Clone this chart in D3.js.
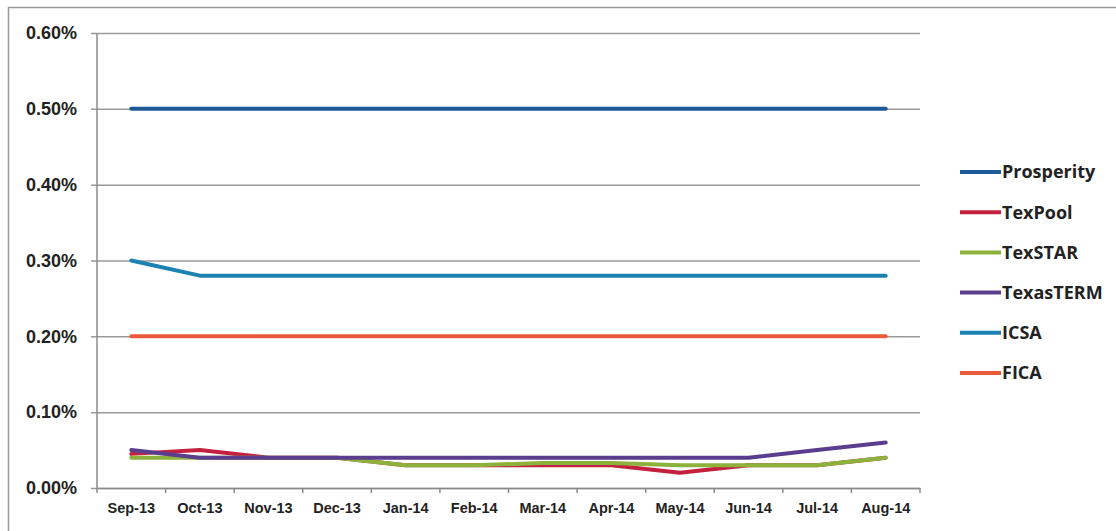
<!DOCTYPE html>
<html>
<head>
<script src="https://d3js.org/d3.v7.min.js"></script>
  <meta charset="utf-8">
  <title>Rates chart</title>
  <style>
    body { margin: 0; background: #fff; }
    svg { display: block; font-family: "Open Sans", "DejaVu Sans", sans-serif; }
  </style>
</head>
<body>
  <div id="chartArea"></div>
  <script>
  var months = ['Sep-13', 'Oct-13', 'Nov-13', 'Dec-13', 'Jan-14', 'Feb-14',
    'Mar-14', 'Apr-14', 'May-14', 'Jun-14', 'Jul-14', 'Aug-14'];

  var seriesNames = ['Prosperity', 'TexPool', 'TexSTAR', 'TexasTERM', 'ICSA', 'FICA'];
  var seriesColors = ['#1d5a98', '#c4213f', '#8cb23c', '#5a3d8c', '#1c82b2', '#ea5a3a'];

  var prosperity = [0.50, 0.50, 0.50, 0.50, 0.50, 0.50, 0.50, 0.50, 0.50, 0.50, 0.50, 0.50];
  var texPool    = [0.045, 0.05, 0.04, 0.04, 0.03, 0.03, 0.03, 0.03, 0.02, 0.03, 0.03, 0.04];
  var texStar    = [0.04, 0.04, 0.04, 0.04, 0.03, 0.03, 0.033, 0.033, 0.03, 0.03, 0.03, 0.04];
  var texasTerm  = [0.05, 0.04, 0.04, 0.04, 0.04, 0.04, 0.04, 0.04, 0.04, 0.04, 0.05, 0.06];
  var icsa       = [0.30, 0.28, 0.28, 0.28, 0.28, 0.28, 0.28, 0.28, 0.28, 0.28, 0.28, 0.28];
  var fica       = [0.20, 0.20, 0.20, 0.20, 0.20, 0.20, 0.20, 0.20, 0.20, 0.20, 0.20, 0.20];

  var yTicks = [0, 0.1, 0.2, 0.3, 0.4, 0.5, 0.6];

  // drawing order: so the lower green line sits over the red one
  var allSeries = [prosperity, texPool, texStar, texasTerm, icsa, fica];
  var drawOrder = [1, 2, 3, 0, 4, 5];

  var chartConfig = {
    width: 1116,
    height: 531,
    left: 97,
    right: 920,
    top: 33,
    bottom: 488
  };

  var svg = d3.select('#chartArea')
    .append('svg')
    .attr('width', chartConfig.width)
    .attr('height', chartConfig.height);

  // outer frame
  svg.append('rect')
    .attr('x', 8.5).attr('y', 7.5)
    .attr('width', chartConfig.width + 20)
    .attr('height', chartConfig.height + 20)
    .attr('fill', 'none')
    .attr('stroke', '#999')
    .attr('stroke-width', 1.5);

  var x = d3.scaleBand()
    .domain(months)
    .range([chartConfig.left, chartConfig.right]);

  var y = d3.scaleLinear()
    .domain([0, 0.6])
    .range([chartConfig.bottom, chartConfig.top]);

  // gridlines + y axis
  var yAxis = d3.axisLeft(y)
    .tickValues(yTicks)
    .tickSize(-(chartConfig.right - chartConfig.left))
    .tickPadding(20)
    .tickFormat(function(d) { return d.toFixed(2) + '%'; });

  var gy = svg.append('g')
    .attr('transform', 'translate(' + chartConfig.left + ',0)')
    .call(yAxis);
  gy.select('.domain').remove();
  gy.selectAll('.tick line')
    .attr('x1', -6)
    .attr('stroke', '#9a9a9a')
    .attr('stroke-width', 1.5);
  gy.selectAll('.tick text')
    .attr('fill', '#222')
    .attr('font-size', 18)
    .attr('font-weight', 'bold');

  svg.append('line')
    .attr('x1', chartConfig.left).attr('x2', chartConfig.left)
    .attr('y1', chartConfig.top).attr('y2', chartConfig.bottom)
    .attr('stroke', '#8a8a8a')
    .attr('stroke-width', 1.5);

  // x axis with ticks at category edges
  var xAxis = d3.axisBottom(x).tickSize(0).tickPadding(15);
  var gx = svg.append('g')
    .attr('transform', 'translate(0,' + chartConfig.bottom + ')')
    .call(xAxis);
  gx.select('.domain')
    .attr('stroke', '#8a8a8a')
    .attr('stroke-width', 1.5);
  gx.selectAll('.tick text')
    .attr('fill', '#222')
    .attr('font-size', 14.5)
    .attr('font-weight', 'bold');

  var edges = months.map(function(m) { return x(m); }).concat([chartConfig.right]);
  svg.selectAll('.xedge')
    .data(edges)
    .enter()
    .append('line')
    .attr('class', 'xedge')
    .attr('x1', function(d) { return d; })
    .attr('x2', function(d) { return d; })
    .attr('y1', chartConfig.bottom)
    .attr('y2', chartConfig.bottom + 5)
    .attr('stroke', '#8a8a8a')
    .attr('stroke-width', 1.5);

  var line = d3.line()
    .x(function(d, i) { return x(months[i]) + x.bandwidth() / 2; })
    .y(function(d) { return y(d); });

  svg.selectAll('.series')
    .data(drawOrder)
    .enter()
    .append('path')
    .attr('class', 'series')
    .attr('d', function(k) { return line(allSeries[k]); })
    .attr('fill', 'none')
    .attr('stroke', function(k) { return seriesColors[k]; })
    .attr('stroke-width', 4)
    .attr('stroke-linejoin', 'round')
    .attr('stroke-linecap', 'round');

  // legend
  var legend = svg.selectAll('.legend')
    .data(seriesNames)
    .enter()
    .append('g')
    .attr('class', 'legend')
    .attr('transform', function(d, i) { return 'translate(960,' + (172 + i * 40.2) + ')'; });

  legend.append('line')
    .attr('x1', 0).attr('x2', 41)
    .attr('stroke', function(d, i) { return seriesColors[i]; })
    .attr('stroke-width', 4);

  legend.append('text')
    .attr('x', 42)
    .attr('dy', '0.35em')
    .attr('font-size', 18)
    .attr('font-weight', 'bold')
    .attr('fill', '#222')
    .text(function(d) { return d; });
  </script>
</body>
</html>
